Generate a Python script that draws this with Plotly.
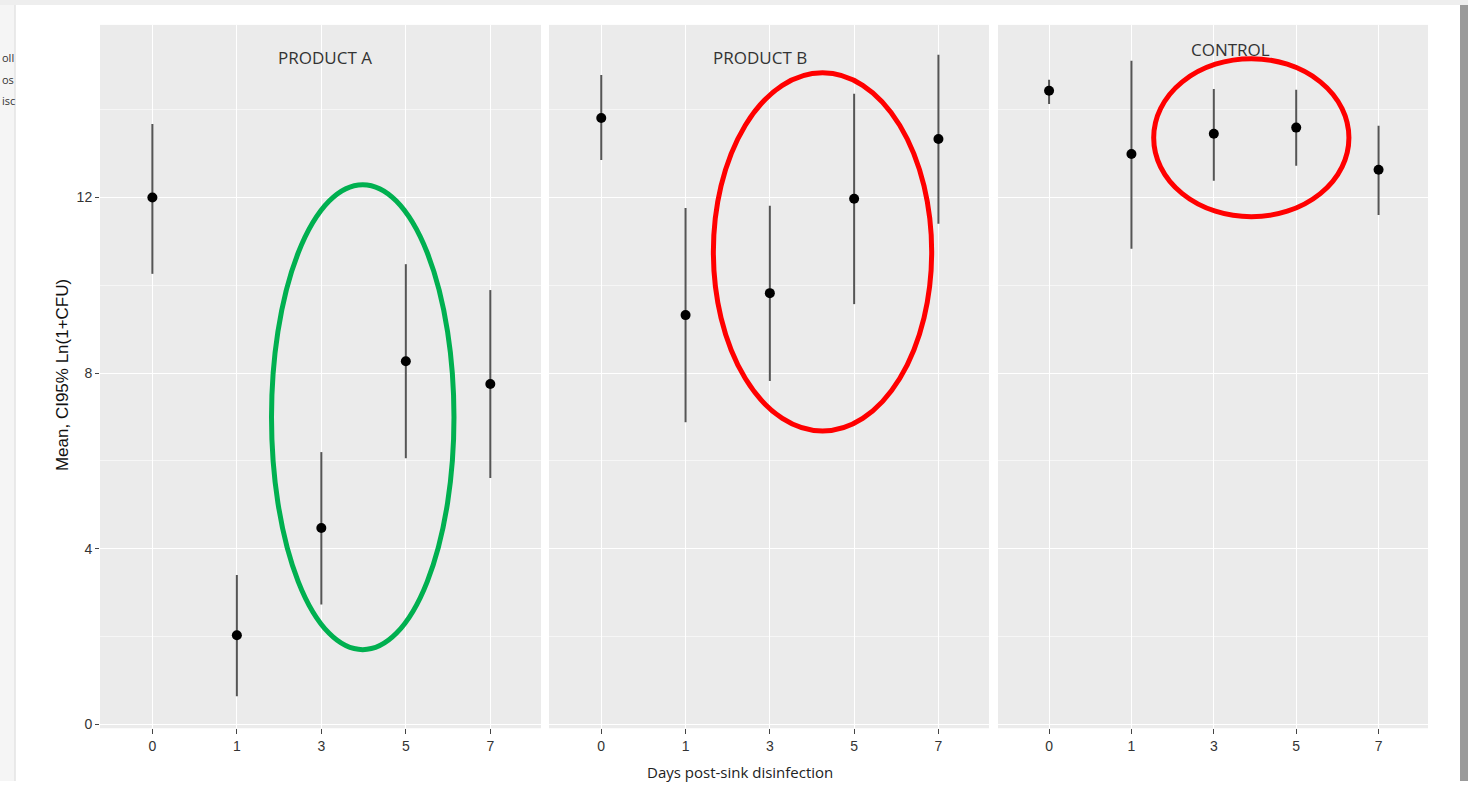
import plotly.graph_objects as go

days = ["0", "1", "3", "5", "7"]
panels = ["PRODUCT A", "PRODUCT B", "CONTROL"]

mean_a = [12.0, 2.03, 4.47, 8.27, 7.75]
upper_a = [13.67, 3.40, 6.20, 10.48, 9.89]
lower_a = [10.26, 0.64, 2.73, 6.06, 5.61]

mean_b = [13.81, 9.32, 9.82, 11.97, 13.33]
upper_b = [14.79, 11.76, 11.81, 14.36, 15.25]
lower_b = [12.85, 6.88, 7.82, 9.57, 11.40]

mean_c = [14.43, 12.99, 13.45, 13.59, 12.63]
upper_c = [14.68, 15.11, 14.47, 14.45, 13.63]
lower_c = [14.13, 10.83, 12.38, 12.72, 11.60]

y_ticks = [0, 4, 8, 12]

W, H = 1468, 785
data = [(mean_a, upper_a, lower_a), (mean_b, upper_b, lower_b), (mean_c, upper_c, lower_c)]
x_px = [(100, 541), (549, 989), (998, 1428)]
y_dom = [1 - 732 / H, 1 - 25 / H]

fig = go.Figure()
for i, (m, u, l) in enumerate(data):
    sfx = "" if i == 0 else str(i + 1)
    fig.add_trace(go.Scatter(
        x=days, y=m, mode="markers",
        marker=dict(color="black", size=10),
        error_y=dict(type="data", symmetric=False,
                     array=[uu - mm for uu, mm in zip(u, m)],
                     arrayminus=[mm - ll for mm, ll in zip(m, l)],
                     color="#555555", thickness=2, width=0),
        xaxis="x" + sfx, yaxis="y" + sfx, showlegend=False,
    ))

layout = dict(
    width=W, height=H, autosize=False, margin=dict(l=0, r=0, t=0, b=0),
    paper_bgcolor="white", plot_bgcolor="#ebebeb",
    font=dict(family="Liberation Sans, Arial", color="#333333"),
    showlegend=False,
)
for i in range(3):
    sfx = "" if i == 0 else str(i + 1)
    x0, x1 = x_px[i]
    layout["xaxis" + sfx] = dict(
        domain=[x0 / W, x1 / W], type="category", range=[-0.62, 4.6],
        anchor="y" + sfx, showgrid=True, gridcolor="white", gridwidth=1.3,
        zeroline=False, ticks="outside", ticklen=5, tickcolor="#444",
        tickfont=dict(size=14, color="#333"), fixedrange=True,
    )
    layout["yaxis" + sfx] = dict(
        domain=y_dom, range=[-0.09, 15.93], anchor="x" + sfx,
        tickmode="array", tickvals=y_ticks,
        ticktext=[str(t) for t in y_ticks] if i == 0 else ["" for _ in y_ticks],
        showticklabels=(i == 0),
        ticks="outside" if i == 0 else "", ticklen=4, tickcolor="#444",
        showgrid=True, gridcolor="white", gridwidth=1.3, zeroline=False,
        minor=dict(tickvals=[2, 6, 10, 14], showgrid=True, gridcolor="#f6f6f6", gridwidth=0.8),
        tickfont=dict(size=14, color="#333"), fixedrange=True,
    )
fig.update_layout(**layout)

# annotation ellipses
shapes = [
    dict(type="circle", xref="x", yref="y", x0=1.41, x1=3.57, y0=1.70, y1=12.29,
         line=dict(color="#00b050", width=5)),
    dict(type="circle", xref="x2", yref="y2", x0=1.33, x1=3.92, y0=6.68, y1=14.84,
         line=dict(color="#ff0000", width=5)),
    dict(type="circle", xref="x3", yref="y3", x0=1.27, x1=3.64, y0=11.56, y1=15.16,
         line=dict(color="#ff0000", width=5)),
    # screenshot framing
    dict(type="rect", xref="paper", yref="paper", x0=0, x1=15 / W, y0=0, y1=1,
         fillcolor="#f5f5f5", line=dict(width=0), layer="below"),
    dict(type="line", xref="paper", yref="paper", x0=15 / W, x1=15 / W, y0=0, y1=1 - 5 / H,
         line=dict(color="#e3e3e3", width=1.5)),
    dict(type="rect", xref="paper", yref="paper", x0=0, x1=1, y0=1 - 5 / H, y1=1,
         fillcolor="#eeeeee", line=dict(width=0), layer="below"),
    dict(type="rect", xref="paper", yref="paper", x0=1460 / W, x1=1, y0=0, y1=1 - 5 / H,
         fillcolor="#9a9a9a", line=dict(width=0), layer="above"),
]
fig.update_layout(shapes=shapes)

ann = []
title_pos = [(325, 58), (760, 58), (1230, 50)]
for name, (px, py) in zip(panels, title_pos):
    ann.append(dict(text=name, xref="paper", yref="paper", x=px / W, y=1 - py / H,
                    xanchor="center", yanchor="middle", showarrow=False,
                    font=dict(family="Open Sans, Lato", size=17, color="#333")))
ann.append(dict(text="Mean, CI95% Ln(1+CFU)", xref="paper", yref="paper",
                x=62 / W, y=1 - 377 / H, textangle=-90, xanchor="center", yanchor="middle",
                showarrow=False, font=dict(family="Liberation Sans, Arial", size=17, color="#111")))
ann.append(dict(text="Days post-sink disinfection", xref="paper", yref="paper",
                x=740 / W, y=1 - 776 / H, xanchor="center", yanchor="middle",
                showarrow=False, font=dict(family="Liberation Sans Narrow, Open Sans", size=15, color="#222")))
for txt, py in [("oll", 58), ("os", 80), ("isc", 101)]:
    ann.append(dict(text=txt, xref="paper", yref="paper", x=0, y=1 - py / H,
                    xanchor="left", yanchor="middle", showarrow=False,
                    font=dict(family="Open Sans", size=11, color="#333")))
fig.update_layout(annotations=ann)

fig.write_html("out.html", config={"displayModeBar": False},
               post_script="document.body.style.margin='0';document.body.style.overflow='hidden';")
